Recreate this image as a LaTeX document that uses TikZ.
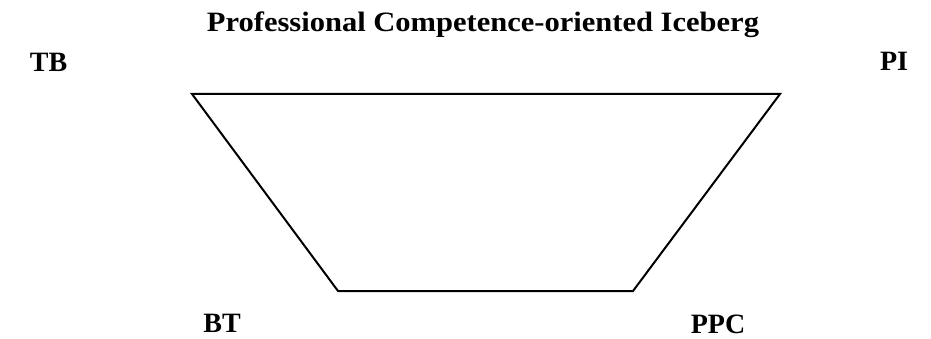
\documentclass[tikz,border=0pt]{standalone}
\usepackage{fontspec}
\setmainfont{Liberation Serif}
\usepackage{tikz}
\usetikzlibrary{positioning}

\begin{document}
\begin{tikzpicture}[
  x=1pt, y=-1pt,
  lbl/.style={font=\fontsize{28}{32}\selectfont\bfseries, inner sep=0pt, anchor=base},
  edge/.style={line width=2pt, line join=miter}
]
\useasboundingbox (0,0) rectangle (931,339);
% corners of the iceberg
\coordinate (tl) at (192,94);
\coordinate (tr) at (780,94);
\coordinate (br) at (633,291);
\coordinate (bl) at (338,291);
\draw[edge] (tl) -- (tr) -- (br) -- (bl) -- cycle;
% labels
\node[lbl] (title) at (483,32) {\scalebox{1.09}[1]{Professional Competence-oriented Iceberg}};
\node[lbl] (tb) at (48.5,72) {TB};
\node[lbl] (pi) at (894,71) {PI};
\node[lbl] (bt) at (222,332) {BT};
\node[lbl] (ppc) at (718,333) {PPC};
\end{tikzpicture}
\end{document}
